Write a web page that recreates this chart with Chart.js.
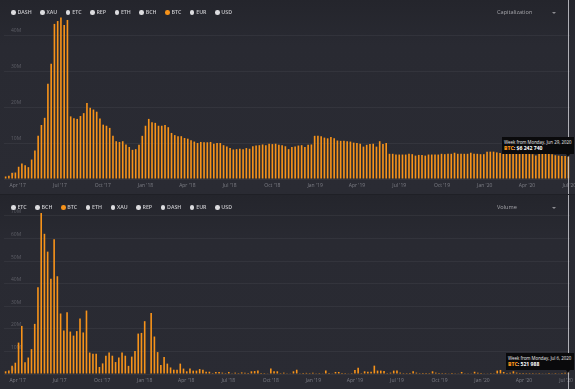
<!DOCTYPE html>
<html>
<head>
<meta charset="utf-8">
<script src="https://cdn.jsdelivr.net/npm/chart.js@4.4.1/dist/chart.umd.min.js"></script>
<style>
*{box-sizing:border-box}
html,body{margin:0;padding:0;width:575px;height:389px;overflow:hidden;background:#1f2026;font-family:"Open Sans",Roboto,"DejaVu Sans",sans-serif}
.panel{position:absolute;left:0;width:575px;height:194px;overflow:hidden;background:linear-gradient(180deg,#24252c 0px,#292a32 45px,#2a2b33 100%)}
#panelCap{top:0}
#panelVol{top:195px}
.panel canvas{position:absolute;left:0;top:0}
.legend{position:absolute;left:11px;top:9px;display:flex;align-items:center;height:7px;white-space:nowrap}
.legend .item{display:flex;align-items:center;margin-right:8.5px;font-size:5.3px;font-weight:600;color:#c9c9cd;line-height:7px}
.legend .dot{width:4.6px;height:4.6px;border-radius:50%;background:#dcdcdf;margin-right:1.8px}
.legend .item.on .dot{background:#f7931a}
.select{position:absolute;left:497px;top:9px;font-size:5.6px;color:#a6a6ab;height:7px;line-height:7px}
.caret{position:absolute;left:552px;top:12px;width:0;height:0;border-left:2px solid transparent;border-right:2px solid transparent;border-top:2.2px solid #8d8d92}
.tip{position:absolute;display:none;background:#0a0a0c;color:#fff;padding:2px 3px 2px 2px;white-space:nowrap;pointer-events:none}
.tip .t{font-size:4.4px;line-height:6px;color:#ececec}
.tip .v{font-size:5.1px;line-height:7px;font-weight:700;color:#fff}
.tip .v b{color:#f7931a}
.tip .arrow{position:absolute;width:0;height:0;border-left:2.5px solid transparent;border-right:2.5px solid transparent;border-top:3px solid #0a0a0c;bottom:-3px}
</style>
</head>
<body>
<div class="panel" id="panelCap">
  <canvas id="capChart" width="575" height="194"></canvas>
  <div class="legend" id="capLegend"></div>
  <div class="select">Capitalization</div><div class="caret"></div>
  <div class="tip" id="capTip"><div class="t"></div><div class="v"></div><div class="arrow"></div></div>
</div>
<div class="panel" id="panelVol">
  <canvas id="volChart" width="575" height="194"></canvas>
  <div class="legend" id="volLegend"></div>
  <div class="select">Volume</div><div class="caret"></div>
  <div class="tip" id="volTip"><div class="t"></div><div class="v"></div><div class="arrow"></div></div>
</div>
<script>
// ---- legend / currency lists ----
const capLegendItems = ['DASH','XAU','ETC','REP','ETH','BCH','BTC','EUR','USD'];
const volLegendItems = ['ETC','BCH','BTC','ETH','XAU','REP','DASH','EUR','USD'];
const activeCurrency = 'BTC';

// ---- weekly categories (week starting Monday) ----
const firstWeek = '2017-03-06';

// ---- x-axis tick labels (quarter starts) ----
const quarterDates = ['2017-04-01','2017-07-01','2017-10-01','2018-01-01','2018-04-01','2018-07-01','2018-10-01',
  '2019-01-01','2019-04-01','2019-07-01','2019-10-01','2020-01-01','2020-04-01','2020-07-01'];
const quarterLabels = ["Apr '17","Jul '17","Oct '17","Jan '18","Apr '18","Jul '18","Oct '18",
  "Jan '19","Apr '19","Jul '19","Oct '19","Jan '20","Apr '20","Jul '20"];

// ---- BTC weekly capitalization, millions ----
const btcCapitalization = [
  0.7,0.9,1.7,1.8,3.4,4.3,3.8,3.3,5.4,7.9,
  12.0,15.0,17.0,26.5,32.0,43.1,43.9,44.9,42.8,44.2,
  17.4,16.9,16.7,17.5,18.3,21.1,19.8,19.3,18.7,16.8,
  15.1,14.8,14.2,12.0,10.5,10.3,10.5,9.6,8.9,8.1,
  8.3,9.5,12.0,14.8,16.7,15.8,15.6,14.8,14.8,15.0,
  14.4,12.8,12.2,11.9,11.9,11.4,11.2,10.8,10.4,10.0,
  10.3,10.2,10.2,10.3,9.8,10.0,10.0,9.4,9.0,8.6,
  8.2,8.3,8.4,8.3,8.6,8.4,9.1,9.3,9.4,9.6,
  9.4,9.8,9.7,9.8,9.5,9.4,9.1,8.3,8.9,9.0,
  9.3,9.4,8.9,9.5,9.6,12.0,12.0,11.9,11.5,11.3,
  11.7,11.3,10.7,10.6,10.6,10.5,10.4,10.1,10.0,9.8,
  9.0,9.5,9.7,9.8,9.0,10.5,9.7,10.0,7.0,7.0,
  6.8,6.8,6.8,6.8,7.0,6.9,6.5,6.7,6.7,6.5,
  6.8,6.8,6.8,6.8,7.0,6.9,7.0,7.0,7.3,7.0,
  7.0,7.0,7.0,7.3,7.0,7.0,6.9,6.9,7.6,7.6,
  7.6,7.4,7.2,7.3,7.2,7.3,7.2,7.3,7.1,7.2,
  7.0,7.1,6.9,6.5,7.0,7.0,7.0,7.0,6.9,6.6,
  6.5,6.4,6.4,6.24274
];

// ---- BTC weekly volume, millions ----
const btcVolume = [
  1.2,1.6,3.6,5.0,13.9,21.3,5.2,7.3,11.0,22.2,
  38.4,71.3,62.1,54.2,42.2,59.7,43.3,26.8,19.3,27.3,
  18.8,17.0,19.0,24.6,18.4,28.1,9.5,9.0,9.0,3.1,
  4.7,8.1,9.5,8.1,5.3,7.3,9.5,8.1,3.6,7.7,
  10.2,17.9,18.2,23.4,0,27.0,16.6,9.7,4.0,7.5,
  4.6,2.9,1.9,1.9,4.6,2.4,1.2,2.4,1.5,1.5,
  2.2,1.9,1.0,1.0,0.4,0.9,0.9,0.6,0.4,0.9,
  0.3,0.6,0.4,0.7,0.6,0.4,1.2,1.3,1.6,0.4,
  0.4,0.3,2.4,1.2,1.2,0.4,0.6,0.3,0.3,1.2,
  1.9,0.3,0.4,0.5,0.4,0.5,0.3,0.4,0.3,1.5,
  0.4,0.3,0.9,0.9,0.4,0.4,0.3,0.4,1.8,2.8,
  0.4,1.2,1.0,1.0,3.7,1.5,1.5,1.3,0.4,0.6,
  1.5,1.5,0.6,0.4,0.4,0.4,1.2,0.6,0.4,0.4,
  0.4,0.4,1.2,0.6,0.4,0.4,0.4,0.3,0.4,0.3,
  0.3,0.9,0.3,0.3,0.3,1.0,0.6,0.4,0.3,0.3,
  0.4,0.3,1.5,1.8,0.9,0.4,0.6,1.2,0.6,0.4,
  0.4,0.4,0.4,0.4,0.3,0.4,0.3,0.3,0.4,0.3,
  0.4,0.3,0.4,0.5,0.521988
];

const MONTHS = ['Jan','Feb','Mar','Apr','May','Jun','Jul','Aug','Sep','Oct','Nov','Dec'];
const DAY = 864e5;
function weekDates(n){
  const t0 = Date.parse(firstWeek + 'T00:00:00Z');
  const out = [];
  for (let i = 0; i < n; i++) out.push(new Date(t0 + i * 7 * DAY));
  return out;
}
function fmtDate(d){ return MONTHS[d.getUTCMonth()] + ' ' + d.getUTCDate() + ', ' + d.getUTCFullYear(); }
function fmtNum(v){ return String(Math.round(v)).replace(/\B(?=(\d{3})+(?!\d))/g, ' '); }

function buildLegend(id, items){
  const host = document.getElementById(id);
  items.forEach(name => {
    const it = document.createElement('div');
    it.className = 'item' + (name === activeCurrency ? ' on' : '');
    const dot = document.createElement('span'); dot.className = 'dot';
    const tx = document.createElement('span'); tx.textContent = name;
    it.appendChild(dot); it.appendChild(tx); host.appendChild(it);
  });
}
buildLegend('capLegend', capLegendItems);
buildLegend('volLegend', volLegendItems);

Chart.defaults.font.family = '"Open Sans", Roboto, "DejaVu Sans", sans-serif';

// vertical hover line through the whole panel at the active bar
const crosshair = {
  id: 'crosshair',
  afterDraw(chart){
    const meta = chart.getDatasetMeta(0);
    const act = chart.tooltip ? chart.tooltip.getActiveElements() : [];
    const el = act.length ? act[0].element : meta.data[meta.data.length - 1];
    if (!el) return;
    const ctx = chart.ctx;
    ctx.save();
    ctx.strokeStyle = 'rgba(200,200,206,0.85)';
    ctx.lineWidth = 1;
    const x = Math.round(el.x) + 0.5;
    ctx.beginPath(); ctx.moveTo(x, 0); ctx.lineTo(x, chart.height); ctx.stroke();
    ctx.restore();
  }
};

function makeExternal(tipId, prefix){
  return ({chart, tooltip}) => {
    const box = document.getElementById(tipId);
    const act = tooltip.getActiveElements();
    if (!act.length) { box.style.display = 'none'; return; }
    const a = act[0];
    const value = chart.data.datasets[a.datasetIndex].data[a.index];
    box.querySelector('.t').textContent = 'Week from Monday, ' + chart.data.labels[a.index];
    box.querySelector('.v').innerHTML = '<b>' + activeCurrency + '</b>: ' + prefix + fmtNum(value * 1e6);
    box.style.display = 'block';
    const w = box.offsetWidth, h = box.offsetHeight;
    const cx = a.element.x, cy = a.element.y;
    const left = Math.min(cx + 6, chart.width - 1) - w;
    box.style.left = left + 'px';
    box.style.top = (cy - 3 - h) + 'px';
    box.querySelector('.arrow').style.left = (cx - left - 2.5) + 'px';
  };
}

function buildChart(canvasId, tipId, values, yMax, prefix){
  const dates = weekDates(values.length);
  const labels = dates.map(fmtDate);
  const t0 = dates[0].getTime();
  const qTicks = quarterDates.map((q, i) => ({
    value: (Date.parse(q + 'T00:00:00Z') - t0) / (7 * DAY),
    lbl: quarterLabels[i]
  })).filter(t => t.value >= -0.5 && t.value <= values.length - 0.5);

  const chart = new Chart(document.getElementById(canvasId), {
    type: 'bar',
    data: { labels, datasets: [{ label: activeCurrency, data: values, backgroundColor: '#f7931a',
      categoryPercentage: 1, barPercentage: 0.5 }] },
    options: {
      responsive: false, animation: false, events: [],
      layout: { padding: { top: 16, left: 4, right: 5, bottom: 5 } },
      plugins: { legend: { display: false },
        tooltip: { enabled: false, external: makeExternal(tipId, prefix) } },
      scales: {
        x: {
          grid: { display: false, drawTicks: false }, border: { display: false },
          afterBuildTicks: s => { s.ticks = qTicks.map(t => ({ value: t.value, lbl: t.lbl })); },
          afterFit: s => { s.paddingLeft = 0; s.paddingRight = 0; s.height = 10; },
          ticks: { autoSkip: false, maxRotation: 0, padding: 4, color: '#7e7f87',
            font: { size: 5 }, callback: (v, i, ticks) => ticks[i].lbl }
        },
        y: {
          min: 0, max: yMax,
          grid: { color: 'rgba(255,255,255,0.05)', drawTicks: false }, border: { display: false },
          afterFit: s => { s.width = 0; s.paddingTop = 0; s.paddingBottom = 0; },
          ticks: { stepSize: 10, includeBounds: false, mirror: true, padding: 7, labelOffset: -4,
            color: '#5e5f67', font: { size: 5 }, callback: v => v === 0 ? '0' : v + 'M' }
        }
      }
    },
    plugins: [crosshair]
  });
  chart.tooltip.setActiveElements([{ datasetIndex: 0, index: values.length - 1 }], { x: 0, y: 0 });
  chart.draw();
  return chart;
}

buildChart('capChart', 'capTip', btcCapitalization, 45.3, '$');
buildChart('volChart', 'volTip', btcVolume, 72.2, '');
</script>
</body>
</html>
